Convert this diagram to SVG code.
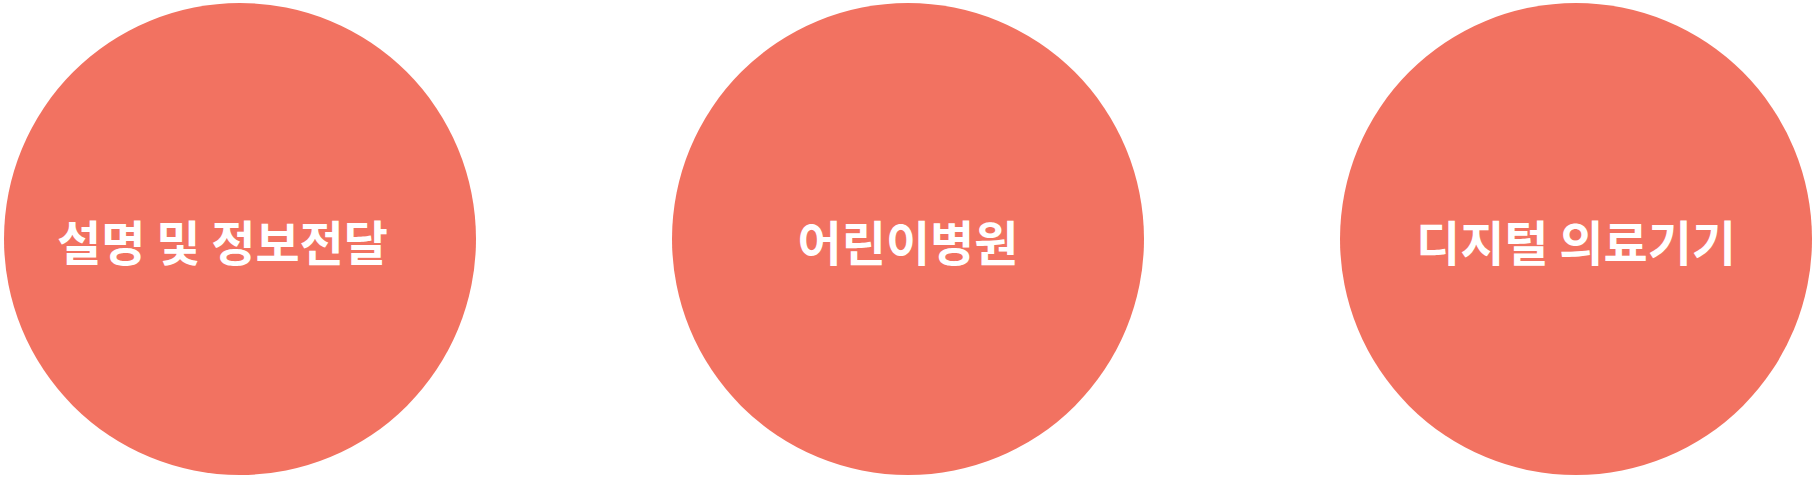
<svg xmlns="http://www.w3.org/2000/svg" width="1817" height="480" viewBox="0 0 1817 480">
<style>
.c{fill:#F27261}
.t{fill:#FFFFFF;font-family:"Noto Sans CJK KR","Noto Sans",sans-serif;font-size:48px;font-weight:700;dominant-baseline:central}
.m{text-anchor:middle}
</style>
<rect width="1817" height="480" fill="#FFFFFF"/>
<g id="node1"><circle class="c" cx="240" cy="239" r="236"/><text class="t" x="57" y="240">설명 및 정보전달</text></g>
<g id="node2"><circle class="c" cx="908" cy="239" r="236"/><text class="t m" x="908" y="240">어린이병원</text></g>
<g id="node3"><circle class="c" cx="1576" cy="239" r="236"/><text class="t m" x="1576" y="240">디지털 의료기기</text></g>
<g id="connectors"></g>
</svg>
